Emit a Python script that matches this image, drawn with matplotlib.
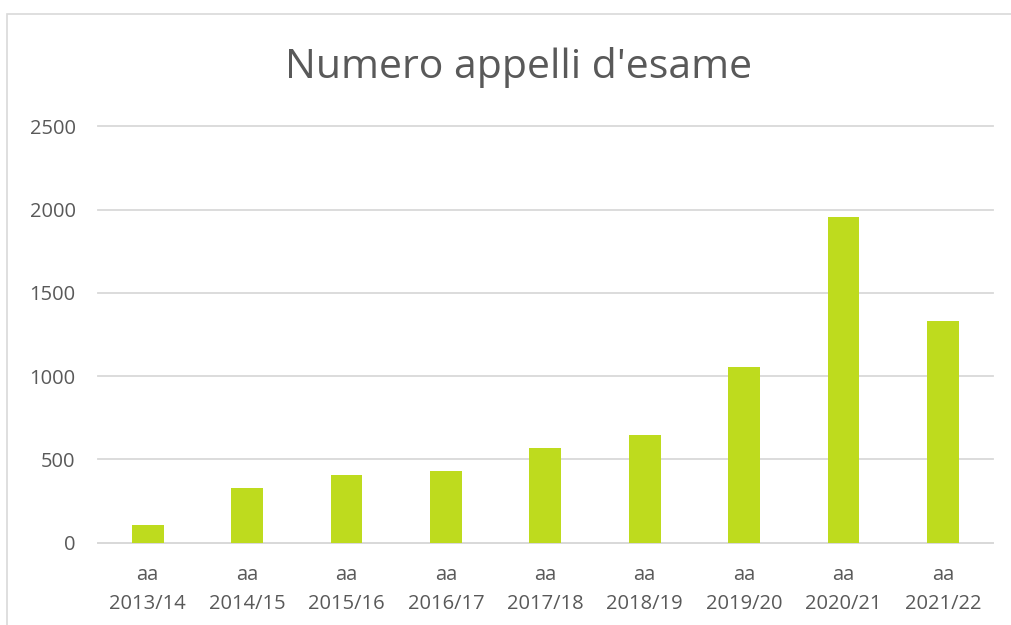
import matplotlib.pyplot as plt
from matplotlib.patches import Rectangle

# Data
anni = ["aa\n2013/14", "aa\n2014/15", "aa\n2015/16", "aa\n2016/17", "aa\n2017/18",
        "aa\n2018/19", "aa\n2019/20", "aa\n2020/21", "aa\n2021/22"]
appelli = [106, 328, 406, 430, 568, 646, 1055, 1958, 1331]
y_ticks = [0, 500, 1000, 1500, 2000, 2500]

plt.rcParams['font.family'] = ['Open Sans', 'DejaVu Sans']
text_col = '#595959'
grid_col = '#D9D9D9'

fig = plt.figure(figsize=(10.11, 6.25), dpi=100)
ax = fig.add_axes([0.0969, 0.132, 0.885, 0.6656])

x = range(len(anni))
ax.bar(x, appelli, width=0.32, color='#BEDB1E', zorder=3)

ax.set_xlim(-0.5, len(anni) - 0.5)
ax.set_ylim(0, 2500)
ax.set_yticks(y_ticks)
ax.set_yticklabels([str(v) for v in y_ticks])
ax.set_xticks(list(x))
ax.set_xticklabels(anni, linespacing=1.6)

ax.grid(axis='y', color=grid_col, linewidth=1.3, zorder=0)
for gl in ax.get_ygridlines():
    gl.set_clip_on(False)
for side in ['top', 'right', 'left']:
    ax.spines[side].set_visible(False)
ax.spines['bottom'].set_color(grid_col)
ax.spines['bottom'].set_linewidth(1.3)

ax.tick_params(axis='both', length=0, labelsize=14.5, labelcolor=text_col)
ax.tick_params(axis='y', pad=16)
ax.tick_params(axis='x', pad=16)

fig.text(0.5125, 0.892, "Numero appelli d'esame", ha='center', va='center',
         fontsize=29.5, color=text_col)

# light chart frame, running past the right and bottom edges
fig.patches.append(Rectangle((0.007, -0.05), 1.1, 0.9776 + 0.05,
                             transform=fig.transFigure, fill=False,
                             edgecolor=grid_col, linewidth=1.2))

fig.savefig('out.png', dpi=100)
